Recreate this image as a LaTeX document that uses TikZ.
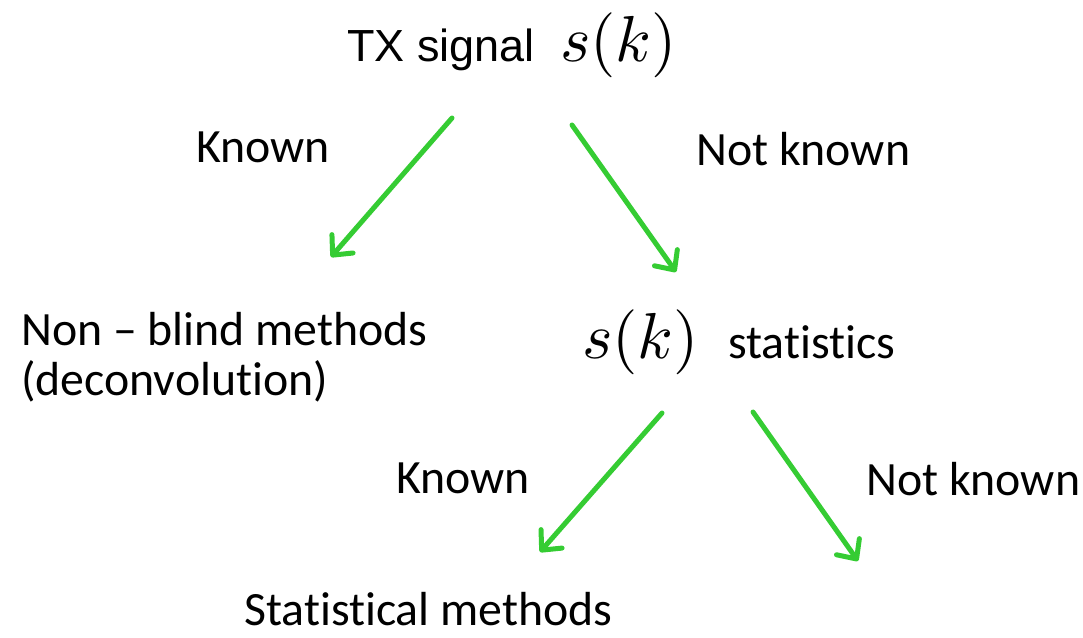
\documentclass[tikz,border=0pt]{standalone}
\usepackage{graphicx}
\usepackage{fontspec}
\newfontfamily\calib[Ligatures={TeX,NoCommon}]{Carlito}
\newfontfamily\arialf{Liberation Sans}
\usetikzlibrary{arrows.meta}
\definecolor{arrgreen}{HTML}{35CC33}
\newcommand{\bigsk}{\scalebox{6.5}{$s(k)$}}
\tikzset{
  lbl/.style={anchor=base west, inner sep=0pt, font=\calib\fontsize{47.8}{52}\selectfont},
  mth/.style={anchor=base west, inner sep=0pt, font=\fontsize{10}{12}\selectfont},
  garrow/.style={draw=arrgreen, line width=5pt, line cap=round,
     -{Straight Barb[length=15pt,width=28pt,line width=5pt,line cap=round,round]}}
}
\begin{document}
\begin{tikzpicture}[x=1pt,y=-1pt]
\useasboundingbox (0,0) rectangle (1083,637);
\node[anchor=base west, inner sep=0pt, font=\arialf\fontsize{45}{50}\selectfont] (tx) at (347,61) {TX signal};
\node[mth] (sk1) at (560,61) {\bigsk};
\node[lbl] (known1) at (196,162) {Known};
\node[lbl] (nk1) at (696,165) {Not known};
\node[lbl] (nonblind) at (21,345) {Non – blind methods};
\node[lbl] (deconv) at (21,395) {(deconvolution)};
\node[mth] (sk2) at (582,358) {\bigsk};
\node[lbl] (stat) at (728,358) {statistics};
\node[lbl] (known2) at (396,493) {Known};
\node[lbl] (nk2) at (866,495) {Not known};
\node[lbl] (statm) at (244,625) {Statistical methods};
\coordinate (a1s) at (452,118); \coordinate (a1e) at (331,257);
\coordinate (a2s) at (572,125); \coordinate (a2e) at (676,272);
\coordinate (a3s) at (662,413); \coordinate (a3e) at (540,552);
\coordinate (a4s) at (753,412); \coordinate (a4e) at (858,561);
\draw[garrow] (a1s) -- (a1e);
\draw[garrow] (a2s) -- (a2e);
\draw[garrow] (a3s) -- (a3e);
\draw[garrow] (a4s) -- (a4e);
\end{tikzpicture}
\end{document}
